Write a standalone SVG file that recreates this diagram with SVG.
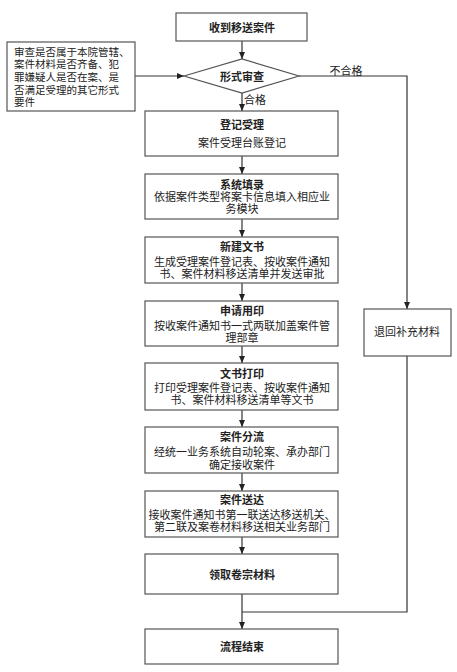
<svg xmlns="http://www.w3.org/2000/svg" width="457" height="672" viewBox="0 0 457 672">
<defs>
<marker id="ah" markerWidth="8" markerHeight="8" refX="7" refY="4" orient="auto" markerUnits="userSpaceOnUse">
<path d="M0,1 L7,4 L0,7 Z" fill="#222"/>
</marker>
<style>
.box{fill:#fff;stroke:#555;stroke-width:1.2}
.ln{fill:none;stroke:#333;stroke-width:1.2}
.t{font-family:"Liberation Sans","Noto Sans CJK SC",sans-serif;font-size:11px;fill:#222;text-anchor:middle}
.b{font-weight:bold}
.l{text-anchor:start;font-size:10.5px}
</style>
</defs>
<rect width="457" height="672" fill="#fff"/>
<g id="connectors">
<line class="ln" x1="242" y1="41" x2="242" y2="59" marker-end="url(#ah)"/>
<line class="ln" x1="135" y1="76" x2="184" y2="76" marker-end="url(#ah)"/>
<line class="ln" x1="242" y1="93" x2="242" y2="111" marker-end="url(#ah)"/>
<polyline class="ln" points="299,76 407,76 407,309" marker-end="url(#ah)"/>
<line class="ln" x1="242" y1="156" x2="242" y2="174" marker-end="url(#ah)"/>
<line class="ln" x1="242" y1="219" x2="242" y2="237" marker-end="url(#ah)"/>
<line class="ln" x1="242" y1="283" x2="242" y2="301" marker-end="url(#ah)"/>
<line class="ln" x1="242" y1="346" x2="242" y2="363" marker-end="url(#ah)"/>
<line class="ln" x1="242" y1="410" x2="242" y2="427" marker-end="url(#ah)"/>
<line class="ln" x1="242" y1="473" x2="242" y2="491" marker-end="url(#ah)"/>
<line class="ln" x1="242" y1="537" x2="242" y2="554" marker-end="url(#ah)"/>
<line class="ln" x1="242" y1="594" x2="242" y2="629" marker-end="url(#ah)"/>
<polyline class="ln" points="407,356 407,612 242,612"/>
<text class="t" x="346" y="75">不合格</text>
<text class="t" x="255" y="104">合格</text>
</g>
<g id="start"><rect class="box" x="176" y="13" width="131" height="28"/><text class="t b" x="242" y="32" font-size="12">收到移送案件</text></g>
<g id="note"><rect class="box" x="7" y="42" width="128" height="69"/>
<text class="t l" x="14" y="56">审查是否属于本院管辖、</text>
<text class="t l" x="14" y="68">案件材料是否齐备、犯</text>
<text class="t l" x="14" y="81">罪嫌疑人是否在案、是</text>
<text class="t l" x="14" y="94">否满足受理的其它形式</text>
<text class="t l" x="14" y="106">要件</text></g>
<g id="check"><polygon class="box" points="184,76 242,59 299,76 242,93"/><text class="t b" x="242" y="81">形式审查</text></g>
<g id="n1"><rect class="box" x="145" y="111" width="193" height="45"/><text class="t b" x="242" y="129">登记受理</text><text class="t" x="242" y="147">案件受理台账登记</text></g>
<g id="n2"><rect class="box" x="145" y="174" width="193" height="45"/><text class="t b" x="242" y="189">系统填录</text><text class="t" x="242" y="201">依据案件类型将案卡信息填入相应业</text><text class="t" x="242" y="213">务模块</text></g>
<g id="n3"><rect class="box" x="145" y="237" width="193" height="46"/><text class="t b" x="242" y="251">新建文书</text><text class="t" x="242" y="266">生成受理案件登记表、按收案件通知</text><text class="t" x="242" y="278">书、案件材料移送清单并发送审批</text></g>
<g id="n4"><rect class="box" x="145" y="301" width="193" height="45"/><text class="t b" x="242" y="315">申请用印</text><text class="t" x="242" y="330">按收案件通知书一式两联加盖案件管</text><text class="t" x="242" y="342">理部章</text></g>
<g id="n5"><rect class="box" x="145" y="363" width="193" height="47"/><text class="t b" x="242" y="378">文书打印</text><text class="t" x="242" y="392">打印受理案件登记表、按收案件通知</text><text class="t" x="242" y="404">书、案件材料移送清单等文书</text></g>
<g id="n6"><rect class="box" x="145" y="427" width="193" height="46"/><text class="t b" x="242" y="441">案件分流</text><text class="t" x="242" y="456">经统一业务系统自动轮案、承办部门</text><text class="t" x="242" y="469">确定接收案件</text></g>
<g id="n7"><rect class="box" x="145" y="491" width="193" height="46"/><text class="t b" x="242" y="504">案件送达</text><text class="t" x="242" y="519">接收案件通知书第一联送达移送机关、</text><text class="t" x="242" y="531">第二联及案卷材料移送相关业务部门</text></g>
<g id="n8"><rect class="box" x="145" y="554" width="193" height="40"/><text class="t b" x="242" y="579">领取卷宗材料</text></g>
<g id="end"><rect class="box" x="145" y="629" width="193" height="35"/><text class="t b" x="242" y="651">流程结束</text></g>
<g id="back"><rect class="box" x="364" y="309" width="87" height="47"/><text class="t" x="407" y="336">退回补充材料</text></g>
</svg>
